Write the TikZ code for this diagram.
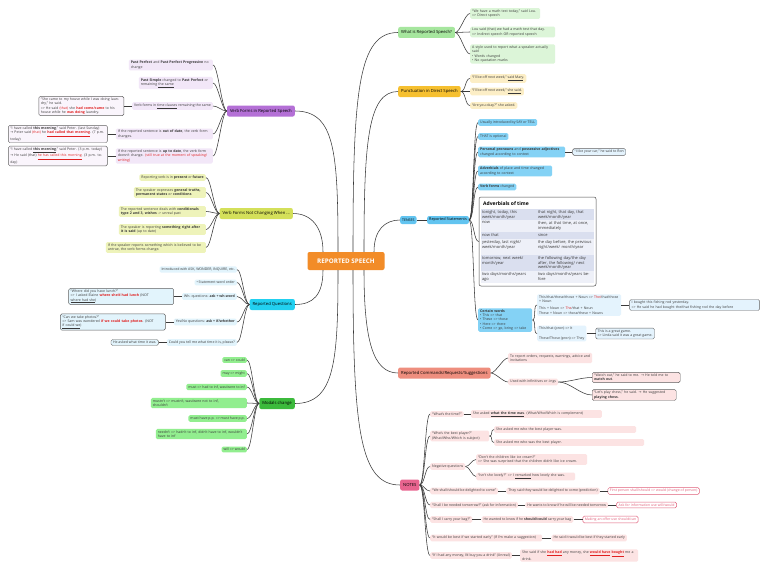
\documentclass[tikz,border=0pt]{standalone}
\usepackage{fontspec}
\setmainfont{Open Sans}
\newfontfamily\djv{DejaVu Sans}
\newcommand\arr{{\djv →}}
\usetikzlibrary{calc,positioning}
\definecolor{orangeC}{HTML}{F28C28}
\definecolor{purpM}{HTML}{B470D6}
\definecolor{purpL}{HTML}{F2E7F8}
\definecolor{ygM}{HTML}{D4E05A}
\definecolor{ygL}{HTML}{EEF3BA}
\definecolor{cyanM}{HTML}{22D0F0}
\definecolor{cyanL}{HTML}{E2F4FC}
\definecolor{grnM}{HTML}{3CBA3C}
\definecolor{grnL}{HTML}{92EE8F}
\definecolor{grn2M}{HTML}{A6E69E}
\definecolor{grn2L}{HTML}{DCF5D8}
\definecolor{yelM}{HTML}{F6C030}
\definecolor{yelL}{HTML}{FCEEC6}
\definecolor{bluM}{HTML}{62C4F0}
\definecolor{bluC}{HTML}{84D2F5}
\definecolor{bluL}{HTML}{E4F3FD}
\definecolor{salM}{HTML}{EE8E7E}
\definecolor{pnkL}{HTML}{FCE3E3}
\definecolor{notM}{HTML}{E8648F}
\definecolor{linec}{HTML}{3A3A3A}
\definecolor{tabA}{HTML}{DADFEF}
\definecolor{tabB}{HTML}{EEF0F8}
\definecolor{textc}{HTML}{383838}
\definecolor{redT}{HTML}{E02020}
\definecolor{redB}{HTML}{E0607A}
\newcommand\fs{\fontsize{3.5}{4.2}\selectfont}
\newcommand\fm{\fontsize{4.2}{5}\selectfont}
\newcommand\ftab{\fontsize{4}{4.7}\selectfont}
\tikzset{
 conn/.style={draw=linec, line width=0.55pt},
 box/.style={rounded corners=1.5pt, inner xsep=2pt, inner ysep=1.6pt, font=\fs, text=textc, align=left},
 mainbox/.style={rounded corners=2pt, inner xsep=3pt, inner ysep=2pt, minimum height=11pt, font=\fm, text=black},
 subbox/.style={box, draw=gray!75!black, line width=0.4pt},
 redbox/.style={box, draw=redB, line width=0.5pt, fill=white, text=redB},
 tcell/.style={anchor=north west, inner sep=0.8pt, font=\ftab, text=textc, align=left},
 pu/.style={box, fill=purpL},
 yg/.style={box, fill=ygL},
 cy/.style={box, fill=cyanL},
 gr/.style={box, fill=grnL},
 g2/.style={box, fill=grn2L},
 ye/.style={box, fill=yelL},
 bc/.style={box, fill=bluC},
 bl/.style={box, fill=bluL},
 pk/.style={box, fill=pnkL}
}
\begin{document}
\begin{tikzpicture}[x=1pt,y=-1pt]
\useasboundingbox (0,0) rectangle (768,586);
\fill[white] (0,0) rectangle (768,586);

% central
\node[mainbox, fill=orangeC, text=white, font=\fontsize{6.3}{7}\selectfont\bfseries, minimum width=77pt, minimum height=18pt] (c) at (346,261) {REPORTED SPEECH};

% main nodes
\node[mainbox, fill=purpM, anchor=east] (vf) at (295,111) {Verb Forms in Reported Speech};
\node[mainbox, fill=ygM, anchor=east] (nc) at (293,213.5) {Verb Forms Not Changing When ...};
\node[mainbox, fill=cyanM, anchor=east] (qs) at (295,304.5) {Reported Questions};
\node[mainbox, fill=grnM, anchor=east] (md) at (295,403.5) {Modals change};
\node[mainbox, fill=grn2M, anchor=west] (wh) at (398,32.5) {What is Reported Speech?};
\node[mainbox, fill=yelM, anchor=west] (pn) at (398,91.5) {Punctuation in Direct Speech};
\node[mainbox, fill=bluM, anchor=west, font=\fs, minimum height=8pt, inner xsep=2pt] (te) at (400,220) {TENSES};
\node[mainbox, fill=bluM, anchor=west, font=\fontsize{3.8}{4.5}\selectfont, minimum height=8pt, inner xsep=2pt] (rs) at (427,220) {Reported Statements};
\node[mainbox, fill=salM, anchor=west] (rc) at (398,373) {Reported Commands/Requests/Suggestions};
\node[mainbox, fill=notM, anchor=west] (no) at (400,485) {NOTES};

% central connectors
\draw[conn] ($(c.north)+(-23,0)$) .. controls +(0,-25) and +(18,0) .. (nc.east);
\draw[conn] ($(c.north)+(-8,0)$) .. controls +(0,-100) and +(40,0) .. (vf.east);
\draw[conn] ($(c.north)+(7,0)$) .. controls +(0,-160) and +(-40,0) .. (wh.west);
\draw[conn] ($(c.north)+(18,0)$) .. controls +(0,-110) and +(-30,0) .. (pn.west);
\draw[conn] ($(c.north)+(28,0)$) .. controls +(0,-22) and +(-15,0) .. (te.west);
\draw[conn] ($(c.south)+(-23,0)$) .. controls +(0,25) and +(18,0) .. (qs.east);
\draw[conn] ($(c.south)+(-8,0)$) .. controls +(0,90) and +(40,0) .. (md.east);
\draw[conn] ($(c.south)+(7,0)$) .. controls +(0,160) and +(-40,0) .. (no.west);
\draw[conn] ($(c.south)+(18,0)$) .. controls +(0,70) and +(-25,0) .. (rc.west);
\draw[conn] (te.east) -- (rs.west);

% ---------- Verb forms in reported speech
\node[pu, anchor=east, text width=80pt] (vf1) at (213,65) {\textbf{Past Perfect} and \textbf{Past Perfect Progressive} no change};
\node[pu, anchor=east, text width=70pt] (vf2) at (213,83) {\textbf{Past Simple} changed to \textbf{Past Perfect} or remaining \underline{the same}};
\node[pu, anchor=east] (vf3) at (213,106) {Verb forms in \underline{time clauses} remaining the same};
\node[pu, anchor=east, text width=93pt] (vf4) at (213,134) {If the reported sentence is \textbf{out of date}, the verb form changes.};
\node[pu, anchor=east, text width=93pt] (vf5) at (213,156) {If the reported sentence is \textbf{up to date}, the verb form doesn’t change. \textcolor{redT}{(still true at the moment of speaking/ writing)}};
\node[subbox, fill=purpL!40, text width=81pt, left=8pt of vf3] (vfe3) {“She came to my house while I was doing laundry,” he said.\\=> He said \textcolor{redT}{(that)} she \textcolor{redT}{\textbf{had come/came}} to his house while he \textcolor{redT}{\textbf{was doing}} laundry.};
\node[subbox, fill=purpL!40, text width=95pt, left=8pt of vf4] (vfe4) {“I have called \textbf{this morning},” said Peter. (last Sunday)\\\arr{} Peter said \textcolor{redT}{(that)} he \textcolor{redT}{\textbf{\underline{had called that morning}}}. (7 p.m. today)};
\node[subbox, fill=purpL!40, text width=95pt, left=8pt of vf5] (vfe5) {“I have called \textbf{\underline{this morning}},” said Peter. (3 p.m. today)\\\arr{} He said (that) \textcolor{redT}{\underline{he has called this morning}}. (3 p.m. today)};
\foreach \n in {vf1,vf2,vf3,vf4,vf5} \draw[conn] (vf.west) .. controls +(-5,0) and +(5,0) .. (\n.east);
\foreach \a/\b in {vf3/vfe3,vf4/vfe4,vf5/vfe5} \draw[conn] (\a.west) -- (\b.east);

% ---------- Verb forms not changing
\node[yg, anchor=east] (n1) at (206,177.5) {Reporting verb is in \textbf{present} or \textbf{future}};
\node[yg, anchor=east, text width=68pt] (n2) at (206,192.5) {The speaker expresses \textbf{general truths, permanent states} or \textbf{conditions}};
\node[yg, anchor=east, text width=83pt] (n3) at (206,211.5) {The reported sentence deals with \textbf{conditionals type 2 and 3, wishes} -> unreal past};
\node[yg, anchor=east, text width=83pt] (n4) at (206,229.5) {The speaker is reporting \textbf{something right after it is said} (up to date)};
\node[yg, anchor=east, text width=96pt] (n5) at (206,247.5) {If the speaker reports something which is believed to be untrue, the verb forms change.};
\foreach \n in {n1,n2,n3,n4,n5} \draw[conn] (nc.west) .. controls +(-5,0) and +(5,0) .. (\n.east);

% ---------- Reported questions
\node[cy, anchor=east] (q1) at (237,269.5) {Introduced with ASK, WONDER, INQUIRE, etc.};
\node[cy, anchor=east] (q2) at (237,282.5) {• Statement word order};
\node[cy, anchor=east] (q3) at (237,296.5) {Wh- questions: \textbf{ask + wh-word}};
\node[cy, anchor=east] (q4) at (237,322) {Yes/No questions: \textbf{ask + if/whether}};
\node[cy, anchor=east] (q5) at (237,342.5) {Could you tell me what time it is, please?};
\node[subbox, fill=cyanL, text width=101pt, left=8pt of q3] (qe3) {“Where did you have lunch?”\\=> I asked Elaine \textcolor{redT}{\textbf{where she’d had lunch}} (NOT \underline{where had she})};
\node[subbox, fill=cyanL, text width=101pt, left=8pt of q4] (qe4) {“Can we take photos?”\\=> Sam was wondered \textcolor{redT}{\textbf{if we could take photos}}. (NOT \underline{if could we})};
\node[subbox, fill=cyanL, left=8pt of q5] (qe5) {He asked what time it was.};
\foreach \n in {q1,q2,q3,q4,q5} \draw[conn] (qs.west) .. controls +(-5,0) and +(5,0) .. (\n.east);
\foreach \a/\b in {q3/qe3,q4/qe4,q5/qe5} \draw[conn] (\a.west) -- (\b.east);

% ---------- Modals change
\node[gr, anchor=east] (m1) at (247,360) {can => could};
\node[gr, anchor=east] (m2) at (247,373.5) {may => might};
\node[gr, anchor=east] (m3) at (247,387) {must => had to inf, was/were to inf};
\node[gr, anchor=east, text width=92pt] (m4) at (247,403) {mustn’t => mustn’t, was/were not to inf,\\shouldn’t};
\node[gr, anchor=east] (m5) at (247,418.5) {must have p.p. => must have p.p.};
\node[gr, anchor=east, text width=87pt] (m6) at (247,434) {needn’t => hadn’t to inf, didn’t have to inf, wouldn’t have to inf};
\node[gr, anchor=east] (m7) at (247,449.5) {will => would};
\foreach \n in {m1,m2,m3,m4,m5,m6,m7} \draw[conn] (md.west) .. controls +(-5,0) and +(5,0) .. (\n.east);

% ---------- What is reported speech
\node[g2, anchor=west, text width=66pt] (w1) at (470,13.5) {“We have a math test today,” said Lou.\\=> Direct speech};
\node[g2, anchor=west, text width=81pt] (w2) at (470,32) {Lou said (that) we had a math test that day.\\=> Indirect speech OR reported speech};
\node[g2, anchor=west, text width=81pt] (w3) at (470,54) {A style used to report what a speaker actually said\\• Words changed\\• No quotation marks};
\foreach \n in {w1,w2,w3} \draw[conn] (wh.east) .. controls +(5,0) and +(-5,0) .. (\n.west);

% ---------- Punctuation
\node[ye, anchor=west] (p1) at (470,78.5) {“I’ll be off next week,” \underline{said Mary}.};
\node[ye, anchor=west] (p2) at (470,91.5) {“I’ll be off next week,” \underline{she said}.};
\node[ye, anchor=west] (p3) at (470,105.5) {“Are you okay?” she asked.};
\foreach \n in {p1,p2,p3} \draw[conn] (pn.east) .. controls +(5,0) and +(-5,0) .. (\n.west);

% ---------- Reported statements
\node[bc, anchor=west] (t1) at (478,122.5) {Usually introduced by SAY or TELL};
\node[bc, anchor=west] (t2) at (478,136.5) {THAT is optional};
\node[bc, anchor=west, text width=83pt] (t3) at (478,152) {\textbf{Personal pronouns} and \textbf{possessive adjectives} changed according to context};
\node[bc, anchor=west, text width=70pt] (t4) at (478,171) {\textbf{Adverbials} of place and time changed according to context};
\node[bc, anchor=west] (t5) at (478,187) {\textbf{Verb forms} changed};
\node[subbox, fill=bluL, right=7pt of t3] (te3) {“I like your car,” he said to Ron};
\draw[conn] (t3.east) -- (te3.west);

\node[draw=gray!60!black, line width=0.5pt, rounded corners=2pt, fill=white, minimum width=117pt, minimum height=89pt, inner sep=0pt] (tbl) at (537.5,241.5) {};
\fill[tabA] (481,209) rectangle (594,220);
\fill[tabB] (481,220) rectangle (594,232);
\fill[tabA] (481,232) rectangle (594,239);
\fill[tabB] (481,239) rectangle (594,255);
\fill[tabA] (481,255) rectangle (594,271);
\fill[tabB] (481,271) rectangle (594,283);
\node[anchor=west, inner sep=0pt, font=\fontsize{5}{6}\selectfont\bfseries] (tblt) at (483,203.5) {Adverbials of time};
\node[tcell, text width=52pt] (a1) at (481,209.3) {tonight, today, this week/month/year};
\node[tcell, text width=55pt] (b1) at (537,209.3) {that night, that day, that week/month/year};
\node[tcell, text width=52pt] (a2) at (481,220.3) {now};
\node[tcell, text width=55pt] (b2) at (537,220.3) {then, at that time, at once, immediately};
\node[tcell, text width=52pt] (a3) at (481,232.3) {now that};
\node[tcell, text width=55pt] (b3) at (537,232.3) {since};
\node[tcell, text width=52pt] (a4) at (481,239.3) {yesterday, last night/ week/month/year};
\node[tcell, text width=55pt] (b4) at (537,239.3) {the day before, the previous night/week/ month/year};
\node[tcell, text width=52pt] (a5) at (481,255.3) {tomorrow, next week/ month/year};
\node[tcell, text width=55pt] (b5) at (537,255.3) {the following day/the day after, the following/ next week/month/year};
\node[tcell, text width=52pt] (a6) at (481,271.3) {two days/months/years ago};
\node[tcell, text width=55pt] (b6) at (537,271.3) {two days/months/years before};

\node[bc, anchor=west, text width=50pt] (cw) at (478,320) {\textbf{Certain words}\\• This => that\\• These => those\\• Here => there\\• Come => go, bring => take};
\node[bl, anchor=west, text width=80pt] (c12) at (537,305) {This/that/these/those + Noun => \textcolor{redT}{The/}that/those + Noun\\[3pt]This + Noun => \textcolor{redT}{The}/that + Noun\\These + Noun => those/these + Nouns};
\node[bl, anchor=west] (c34) at (537,333.5) {This/that (pron) => It\\[5pt]These/Those (pron) => They};
\node[subbox, fill=bluL, text width=126pt, right=8pt of c12] (ce12) {I bought this fishing rod yesterday.\\=> He said he had bought the/that fishing rod the day before};
\node[subbox, fill=bluL, right=9pt of c34] (ce34) {This is a great game.\\=> Linda said it was a great game.};
\foreach \n in {t1,t2,t3,t4,t5,tbl,cw} \draw[conn] (rs.east) .. controls +(5,0) and +(-5,0) .. (\n.west);
\foreach \n in {c12,c34} \draw[conn] (cw.east) .. controls +(4,0) and +(-4,0) .. (\n.west);
\draw[conn] (c12.east) -- (ce12.west);
\draw[conn] (c34.east) -- (ce34.west);

% ---------- Reported commands
\node[pk, anchor=west, text width=80pt] (r1) at (508,358) {To report orders, requests, warnings, advice and invitations};
\node[pk, anchor=west] (r2) at (508,382) {Used with infinitives or -ings};
\node[subbox, fill=pnkL, anchor=west, text width=84pt] (re1) at (592,377.5) {“Watch out,” he said to me. \arr{} He told me to \textbf{watch out}.};
\node[subbox, fill=pnkL, anchor=west, text width=80pt] (re2) at (592,395) {“Let’s play chess,” he said. \arr{} He suggested \textbf{playing chess}.};
\foreach \n in {r1,r2} \draw[conn] (rc.east) .. controls +(5,0) and +(-5,0) .. (\n.west);
\foreach \n in {re1,re2} \draw[conn] (r2.east) .. controls +(12,0) and +(-12,0) .. (\n.west);

% ---------- Notes
\node[pk, anchor=west] (nt1) at (430,414) {“What’s the time?”};
\node[pk, text width=127pt, right=7pt of nt1] (nt1b) {She asked \textbf{\underline{what the time was}}. (What/Who/Which is complement)};
\node[pk, anchor=west, text width=55pt] (nt2) at (430,436) {“Who’s the best player?” (What/Who/Which is subject)};
\node[pk, anchor=west, text width=138pt] (nt2a) at (494,429.5) {She asked me who the best player was.};
\node[pk, anchor=west, text width=146pt] (nt2b) at (494,442.5) {She asked me who was the best player.};
\node[pk, anchor=west] (nt3) at (430,466.5) {Negative questions};
\node[pk, anchor=west, text width=107pt] (nt3a) at (476,459.5) {“Don’t the children like ice cream?”\\=> She was surprised that the children didn’t like ice cream.};
\node[pk, anchor=west, text width=95pt] (nt3b) at (476,476.5) {“Isn’t she lovely?” => I \underline{remarked} how lovely she was.};
\node[pk, anchor=west] (nt4) at (430,491) {“We shall/should be delighted to come”};
\node[pk, right=8pt of nt4] (nt4b) {They said they would be delighted to come (prediction)};
\node[redbox, right=8pt of nt4b] (nt4c) {First person shall/should => would (change of person)};
\node[pk, anchor=west] (nt5) at (430,505) {“Shall I be needed tomorrow?” (ask for information)};
\node[pk, right=7pt of nt5] (nt5b) {He wants to know if he will be needed tomorrow};
\node[redbox, right=8pt of nt5b] (nt5c) {Ask for information use will/would};
\node[pk, anchor=west] (nt6) at (430,519.5) {“Shall I carry your bag?”};
\node[pk, right=9pt of nt6] (nt6b) {He wanted to know if he \textbf{should/could} carry your bag};
\node[redbox, right=9pt of nt6b] (nt6c) {Making an offer use should/can};
\node[pk, anchor=west, text width=108pt] (nt7) at (430,538) {“It would be best if we started early” (If I’m make a suggestion)};
\node[pk, right=9pt of nt7] (nt7b) {He said it would be best if they started early};
\node[pk, anchor=west] (nt8) at (430,555.5) {“If I had any money, I’d buy you a drink” (Unreal)};
\node[pk, text width=114pt, right=8pt of nt8] (nt8b) {She said if she \textcolor{redT}{\textbf{\underline{had had}}} any money, she \textcolor{redT}{\textbf{\underline{would have}}} \textcolor{redT}{\textbf{\underline{bought}}} me a drink.};
\foreach \n in {nt1,nt2,nt3,nt4,nt5,nt6,nt7,nt8} \draw[conn] (no.east) .. controls +(5,0) and +(-5,0) .. (\n.west);
\draw[conn] (nt1.east) -- (nt1b.west);
\foreach \n in {nt2a,nt2b} \draw[conn] (nt2.east) .. controls +(4,0) and +(-4,0) .. (\n.west);
\foreach \n in {nt3a,nt3b} \draw[conn] (nt3.east) .. controls +(4,0) and +(-4,0) .. (\n.west);
\draw[conn] (nt4.east) -- (nt4b.west);
\draw[conn] (nt4b.east) -- (nt4c.west);
\draw[conn] (nt5.east) -- (nt5b.west);
\draw[conn] (nt5b.east) -- (nt5c.west);
\draw[conn] (nt6.east) -- (nt6b.west);
\draw[conn] (nt6b.east) -- (nt6c.west);
\draw[conn] (nt7.east) -- (nt7b.west);
\draw[conn] (nt8.east) -- (nt8b.west);
\end{tikzpicture}
\end{document}
